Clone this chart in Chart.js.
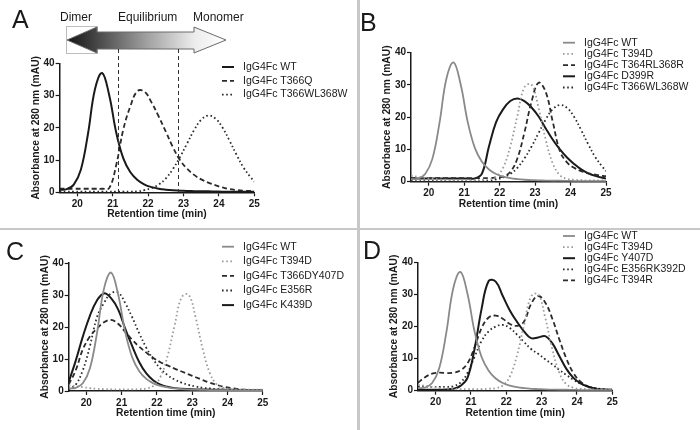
<!DOCTYPE html>
<html>
<head>
<meta charset="utf-8">
<script src="https://cdn.jsdelivr.net/npm/chart.js@4.4.0/dist/chart.umd.min.js"></script>
<style>
    body { margin: 0; background: #fff; }
    .page { position: relative; width: 700px; height: 430px; overflow: hidden; font-family: "Liberation Sans", Arial, sans-serif; color: #1a1a1a; }
    .page canvas { position: absolute; left: 0; top: 0; }
    .letter { position: absolute; font-size: 25px; line-height: 1; }
    .tag { position: absolute; font-size: 12px; line-height: 14px; }
    .sep-h { position: absolute; left: 0; top: 228px; width: 700px; height: 2px; background: #c8c8c8; }
    .sep-v { position: absolute; left: 357px; top: 0; width: 3px; height: 430px; background: #c8c8c8; }
</style>
</head>
<body>
<div class="page">
    <div class="sep-h"></div>
    <div class="sep-v"></div>
    <canvas id="chart-a" width="700" height="430"></canvas>
    <canvas id="chart-b" width="700" height="430"></canvas>
    <canvas id="chart-c" width="700" height="430"></canvas>
    <canvas id="chart-d" width="700" height="430"></canvas>
    <div class="letter" style="left:12px;top:7px">A</div>
    <div class="letter" style="left:360px;top:10px">B</div>
    <div class="letter" style="left:6px;top:239px">C</div>
    <div class="letter" style="left:363px;top:238px">D</div>
    <div class="tag" style="left:60px;top:10px">Dimer</div>
    <div class="tag" style="left:118px;top:10px">Equilibrium</div>
    <div class="tag" style="left:193px;top:10px">Monomer</div>
</div>
<script>
// retention time grid (min) shared by every trace
const times = [19.5, 19.7, 19.9, 20.1, 20.3, 20.5, 20.7, 20.9, 21.1, 21.3, 21.5, 21.7, 21.9, 22.1, 22.3,
    22.5, 22.7, 22.9, 23.1, 23.3, 23.5, 23.7, 23.9, 24.1, 24.3, 24.5, 24.7, 24.9, 25.0]
const xTicks = [20, 21, 22, 23, 24, 25]
const yTicks = [0, 10, 20, 30, 40]
const boundaries = [21.15, 22.85]

// absorbance at 280 nm (mAU)
const wt = [0.8, 1.0, 2.4, 7, 18, 32, 37, 30.2, 18.5, 10.5, 6.2, 3.8, 2.4, 1.6, 1.1, 0.8, 0.6, 0.5, 0.4, 0.35, 0.3, 0.3, 0.25, 0.2, 0.2, 0.2, 0.2, 0.2, 0.2]
const t366q = [1.1, 1.1, 1.1, 1.1, 1.1, 1.1, 1.1, 1.3, 8.5, 19.5, 26.7, 31.4, 31.2, 27.8, 23.5, 18.8, 14, 10, 7.3, 5.4, 4.0, 3.0, 2.2, 1.5, 1.0, 0.7, 0.5, 0.4, 0.3]
const t366wl368w = [0.2, 0.2, 0.2, 0.2, 0.2, 0.2, 0.2, 0.2, 0.2, 0.2, 0.2, 0.3, 0.7, 1.3, 2.4, 4.3, 7.2, 10.9, 15.1, 19.3, 22.5, 23.8, 22.9, 20.1, 16.0, 11.6, 7.6, 4.6, 3.3]
const t394d = [1.8, 1.5, 1.2, 0.9, 0.7, 0.6, 0.5, 0.5, 0.5, 0.5, 0.6, 0.8, 1.6, 4.4, 10.9, 20.4, 29.3, 30.1, 22.8, 13, 5.6, 2.0, 0.9, 0.6, 0.5, 0.4, 0.4, 0.4, 0.4]
const t364rl368r = [1.1, 1.1, 1.1, 1.1, 1.1, 1.1, 1.1, 1.1, 1.1, 1.1, 1.1, 1.1, 1.3, 1.6, 3.0, 7.2, 15.3, 24.8, 30.7, 27.8, 18.5, 9.5, 6.0, 4.3, 3.3, 2.6, 2.2, 1.8, 1.7]
const d399r = [1.0, 1.0, 1.0, 1.0, 1.0, 1.0, 1.0, 1.0, 1.0, 1.0, 2.5, 11, 18.5, 22.5, 25, 25.8, 25, 23, 20.2, 16.5, 13, 10, 7.5, 5.5, 3.8, 2.6, 1.8, 1.2, 1.0]
const t366dy407d = [2.0, 6.5, 13, 17, 19.5, 21.5, 22.2, 21, 18.5, 16, 13.8, 12, 10.3, 9, 8, 7, 6.1, 5.2, 4.3, 3.4, 2.6, 1.9, 1.3, 0.9, 0.6, 0.4, 0.3, 0.3, 0.3]
const e356r = [0.5, 2, 6.5, 14, 23, 27.5, 30.5, 30.8, 27.5, 23, 18, 13.5, 9.8, 7, 5, 3.6, 2.6, 1.9, 1.4, 1.0, 0.8, 0.6, 0.5, 0.4, 0.3, 0.3, 0.3, 0.3, 0.3]
const k439d = [2.8, 9.5, 17, 23.5, 28.3, 30.5, 29, 25.5, 19.5, 14, 9, 5.5, 3.3, 2, 1.3, 0.9, 0.7, 0.6, 0.5, 0.5, 0.4, 0.4, 0.4, 0.3, 0.3, 0.3, 0.3, 0.3, 0.3]
const y407d = [0.3, 0.3, 0.3, 0.3, 0.4, 0.6, 1.5, 4, 13, 25.5, 34.2, 34.0, 29.5, 25, 21.5, 18.5, 16.4, 16.6, 17, 14.8, 10.8, 6.8, 4, 2.3, 1.3, 0.7, 0.4, 0.3, 0.2]
const e356rk392d = [1.3, 1.3, 1.2, 1.2, 1.2, 1.4, 2.5, 5.5, 10.5, 15.5, 18.5, 20, 20.5, 19.5, 17.5, 15.2, 13, 11.5, 9.8, 8.2, 6.5, 4.9, 3.4, 2.2, 1.4, 0.8, 0.5, 0.3, 0.3]
const t394r = [2.5, 4.2, 5.3, 5.6, 5.5, 5.6, 6.3, 8.5, 13.5, 19.5, 22.8, 23.4, 22.4, 20.8, 20.2, 21.5, 27, 29.5, 27.5, 22.5, 16, 10, 5.5, 2.8, 1.4, 0.7, 0.4, 0.3, 0.3]

const styles = {
    solid: { color: '#1a1a1a', dash: [], width: 2 },
    gray: { color: '#8a8a8a', dash: [], width: 1.8 },
    dashed: { color: '#2b2b2b', dash: [5, 3], width: 1.8 },
    dotted: { color: '#2b2b2b', dash: [1.6, 2.6], width: 1.8 },
    light: { color: '#9c9c9c', dash: [1.6, 2.6], width: 1.8 }
}

const panels = [
    {
        id: 'chart-a', area: { left: 59.6, top: 63.3, right: 254.3, bottom: 192.3 },
        legend: { x: 222, y: 67, gap: 13.8 }, arrow: true,
        series: [['IgG4Fc WT', wt, 'solid'], ['IgG4Fc T366Q', t366q, 'dashed'], ['IgG4Fc T366WL368W', t366wl368w, 'dotted']]
    },
    {
        id: 'chart-b', area: { left: 411, top: 52.7, right: 606, bottom: 181.7 },
        legend: { x: 563, y: 42.7, gap: 11.2 },
        series: [['IgG4Fc WT', wt, 'gray'], ['IgG4Fc T394D', t394d, 'light'], ['IgG4Fc T364RL368R', t364rl368r, 'dashed'],
            ['IgG4Fc D399R', d399r, 'solid'], ['IgG4Fc T366WL368W', t366wl368w, 'dotted']]
    },
    {
        id: 'chart-c', area: { left: 68.7, top: 263, right: 262.8, bottom: 391 },
        legend: { x: 222, y: 246.7, gap: 14.6 },
        series: [['IgG4Fc WT', wt, 'gray'], ['IgG4Fc T394D', t394d, 'light'], ['IgG4Fc T366DY407D', t366dy407d, 'dashed'],
            ['IgG4Fc E356R', e356r, 'dotted'], ['IgG4Fc K439D', k439d, 'solid']]
    },
    {
        id: 'chart-d', area: { left: 418, top: 262.3, right: 612.3, bottom: 390.7 },
        legend: { x: 563, y: 236, gap: 11.1 },
        series: [['IgG4Fc WT', wt, 'gray'], ['IgG4Fc T394D', t394d, 'light'], ['IgG4Fc Y407D', y407d, 'solid'],
            ['IgG4Fc E356RK392D', e356rk392d, 'dotted'], ['IgG4Fc T394R', t394r, 'dashed']]
    }
]

const FONT = '"Liberation Sans", Arial, sans-serif'
Chart.defaults.font.family = FONT
Chart.defaults.color = '#1a1a1a'

const Y_BOX = 30
const X_BOX = 28.5

const panelLegend = {
    id: 'panelLegend',
    afterDraw(chart, args, opts) {
        const ctx = chart.ctx
        ctx.save()
        ctx.font = '10.5px ' + FONT
        ctx.textBaseline = 'middle'
        ctx.fillStyle = '#1a1a1a'
        chart.data.datasets.forEach((ds, i) => {
            const y = opts.y + i * opts.gap
            ctx.beginPath()
            ctx.strokeStyle = ds.borderColor
            ctx.lineWidth = ds.borderWidth
            ctx.setLineDash(ds.borderDash)
            ctx.moveTo(opts.x, y)
            ctx.lineTo(opts.x + 12, y)
            ctx.stroke()
            ctx.fillText(ds.label, opts.x + 21, y)
        })
        ctx.restore()
    }
}

// shaded dimer/monomer arrow and the dashed boundaries of panel A
const equilibriumArrow = {
    id: 'equilibriumArrow',
    afterDraw(chart, args, opts) {
        if (!opts.show) return
        const ctx = chart.ctx
        const x = chart.scales.x
        ctx.save()
        ctx.strokeStyle = '#bdbdbd'
        ctx.lineWidth = 1
        ctx.strokeRect(66.5, 26.5, 31, 27)

        const grad = ctx.createLinearGradient(67, 0, 226, 0)
        grad.addColorStop(0, '#151515')
        grad.addColorStop(0.2, '#4a4a4a')
        grad.addColorStop(0.5, '#a0a0a0')
        grad.addColorStop(0.8, '#ececec')
        grad.addColorStop(1, '#ffffff')
        ctx.beginPath()
        ctx.moveTo(67, 40)
        ctx.lineTo(97, 27)
        ctx.lineTo(97, 32)
        ctx.lineTo(194, 32)
        ctx.lineTo(194, 27)
        ctx.lineTo(226, 40)
        ctx.lineTo(194, 53)
        ctx.lineTo(194, 49)
        ctx.lineTo(97, 49)
        ctx.lineTo(97, 53)
        ctx.closePath()
        ctx.fillStyle = grad
        ctx.fill()
        ctx.strokeStyle = '#6a6a6a'
        ctx.stroke()

        ctx.strokeStyle = '#333'
        ctx.lineWidth = 1
        ctx.setLineDash([4, 3])
        boundaries.forEach(b => {
            const px = Math.round(x.getPixelForValue(b)) + 0.5
            ctx.beginPath()
            ctx.moveTo(px, 49)
            ctx.lineTo(px, chart.chartArea.bottom)
            ctx.stroke()
        })
        ctx.restore()
    }
}

function axis(tickValues, min, max, title, horizontal) {
    return {
        type: 'linear',
        min,
        max,
        afterBuildTicks: s => { s.ticks = tickValues.map(v => ({ value: v })) },
        afterFit: s => {
            if (horizontal) s.height = X_BOX
            else s.width = Y_BOX
            s.paddingLeft = 0
            s.paddingRight = 0
            s.paddingTop = 0
            s.paddingBottom = 0
        },
        grid: { display: true, drawOnChartArea: false, tickLength: 4, tickColor: '#1a1a1a', tickWidth: 1.2 },
        border: { display: true, color: '#1a1a1a', width: 1.5 },
        ticks: { autoSkip: false, maxRotation: 0, padding: horizontal ? 2 : 1, color: '#1a1a1a', font: { size: 10, weight: 'bold' } },
        title: { display: true, text: title, color: '#1a1a1a', padding: 0, font: { size: 10.3, weight: 'bold' } }
    }
}

function renderPanel(panel) {
    const ctx = document.getElementById(panel.id)
    const { area } = panel

    const datasets = panel.series.map(([label, values, styleName]) => {
        const st = styles[styleName]
        return {
            label,
            data: times.map((t, i) => ({ x: t, y: values[i] })),
            borderColor: st.color,
            borderWidth: st.width,
            borderDash: st.dash,
            pointRadius: 0,
            fill: false,
            tension: 0.4
        }
    })

    new Chart(ctx, {
        type: 'line',
        data: { datasets },
        options: {
            responsive: false,
            animation: false,
            events: [],
            layout: {
                padding: {
                    left: area.left - Y_BOX,
                    top: area.top,
                    right: 700 - area.right,
                    bottom: 430 - area.bottom - X_BOX
                }
            },
            scales: {
                x: axis(xTicks, 19.5, 25, 'Retention time (min)', true),
                y: axis(yTicks, 0, 40, 'Absorbance at 280 nm (mAU)', false)
            },
            plugins: {
                legend: { display: false },
                tooltip: { enabled: false },
                panelLegend: panel.legend,
                equilibriumArrow: { show: !!panel.arrow }
            }
        },
        plugins: [panelLegend, equilibriumArrow]
    })
}

panels.forEach(renderPanel)
</script>
</body>
</html>
